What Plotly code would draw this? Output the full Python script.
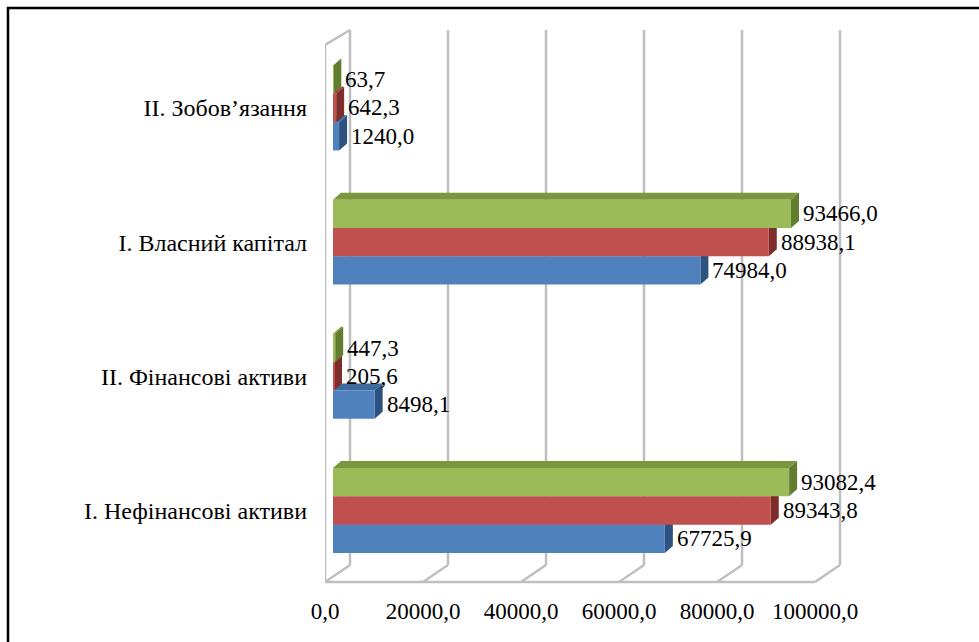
import plotly.graph_objects as go

# ---------------- data ----------------
categories = ["I. Нефінансові активи", "II. Фінансові активи",
              "I. Власний капітал", "II. Зобов’язання"]
series_names = ["Ряд 1", "Ряд 2", "Ряд 3"]
series_blue = [67725.9, 8498.1, 74984.0, 1240.0]
series_red = [89343.8, 205.6, 88938.1, 642.3]
series_green = [93082.4, 447.3, 93466.0, 63.7]
x_ticks = [0, 20000, 40000, 60000, 80000, 100000]
x_tick_labels = ["0,0", "20000,0", "40000,0", "60000,0", "80000,0", "100000,0"]

# ---------------- styles ----------------
front_cols = ["#4F81BD", "#C0504D", "#9BBB59"]
top_cols = ["#3D6A9E", "#A03E3B", "#7A973E"]
side_cols = ["#2E527F", "#7F2D2B", "#617D2F"]
FONT = "Liberation Serif"
W, H = 979, 642
L, R, T, B = 325, 845, 25, 585       # plot area in pixels
KX = 0.0049                           # px per data unit
KY = 134.17                           # px per category
BAR0_PX = 333                         # pixel of x=0 at bar front
CAT0_PX = 510.5                       # pixel of category 0 centre

def X(px):
    return (px - BAR0_PX) / KX

def Y(py):
    return (CAT0_PX - py) / KY

xr = [X(L), X(R)]
yr = [Y(B), Y(T)]

bargap = 0.367
nser = 3
bw = (1 - bargap) / nser
depth_dx = 8 / KX
depth_dy = 7 / KY

fig = go.Figure()
all_series = [series_blue, series_red, series_green]
ypos = list(range(len(categories)))
for i, vals in enumerate(all_series):
    fig.add_trace(go.Bar(
        x=vals, y=ypos, orientation="h", name=series_names[i],
        marker=dict(color=front_cols[i], line=dict(width=0)),
        hoverinfo="x",
    ))

shapes = []
# back wall gridlines and floor lines
front_off = X(325) - X(BAR0_PX)
back_off = X(350) - X(BAR0_PX)
y_ff, y_bf = Y(582), Y(565)
y_bt, y_ft = Y(30), Y(45)
grid = dict(color="#BFBFBF", width=2.5)
for t in x_ticks:
    shapes.append(dict(type="line", xref="x", yref="y", layer="between",
                       x0=t + back_off, x1=t + back_off, y0=y_bf, y1=y_bt, line=grid))
    shapes.append(dict(type="line", xref="x", yref="y", layer="between",
                       x0=t + back_off, x1=t + front_off, y0=y_bf, y1=y_ff, line=grid))
shapes.append(dict(type="line", xref="x", yref="y", layer="between",
                   x0=x_ticks[0] + front_off, x1=x_ticks[-1] + front_off,
                   y0=y_ff, y1=y_ff, line=grid))
shapes.append(dict(type="path", xref="x", yref="y", layer="between",
                   path=f"M{x_ticks[0] + front_off},{y_ff} L{x_ticks[0] + front_off},{y_ft} "
                        f"L{x_ticks[0] + back_off},{y_bt}",
                   line=grid))

# 3D faces of bars
for i, vals in enumerate(all_series):
    for c, v in enumerate(vals):
        yc = c + (i - (nser - 1) / 2) * bw
        ytop, ybot = yc + bw / 2, yc - bw / 2
        shapes.append(dict(
            type="path", xref="x", yref="y", layer="between",
            path=f"M0,{ytop} L{v},{ytop} L{v + depth_dx},{ytop + depth_dy} "
                 f"L{depth_dx},{ytop + depth_dy} Z",
            fillcolor=top_cols[i], line=dict(width=0)))
        shapes.append(dict(
            type="path", xref="x", yref="y", layer="between",
            path=f"M{v},{ybot} L{v},{ytop} L{v + depth_dx},{ytop + depth_dy} "
                 f"L{v + depth_dx},{ybot + depth_dy} Z",
            fillcolor=side_cols[i], line=dict(width=0)))

# outer border (extends beyond the right and bottom edges)
def PX(px):
    return (px - L) / (R - L)

def PY(py):
    return (B - py) / (B - T)

shapes.append(dict(type="path", xref="paper", yref="paper", layer="above",
                   path=f"M{PX(8)},{PY(700)} L{PX(8)},{PY(8)} L{PX(1000)},{PY(8)}",
                   line=dict(color="#000000", width=2.5)))

annotations = []
for i, vals in enumerate(all_series):
    for c, v in enumerate(vals):
        yc = c + (i - (nser - 1) / 2) * bw
        annotations.append(dict(
            x=v, y=yc, xref="x", yref="y", xanchor="left", yanchor="middle",
            xshift=10, yshift=0, showarrow=False,
            text=f"{v:.1f}".replace(".", ","),
            font=dict(family=FONT, size=23, color="#000000")))

fig.update_layout(
    width=W, height=H, barmode="group", bargap=bargap, bargroupgap=0,
    showlegend=False, plot_bgcolor="white", paper_bgcolor="white",
    font=dict(family=FONT, size=23, color="#000000"),
    margin=dict(l=L, r=W - R, t=T, b=H - B, pad=0),
    shapes=shapes, annotations=annotations,
    xaxis=dict(range=xr, showgrid=False, zeroline=False, showline=False,
               tickvals=[t + front_off for t in x_ticks], ticktext=x_tick_labels,
               ticks="", ticklabelstandoff=10,
               tickfont=dict(family=FONT, size=23, color="#000000")),
    yaxis=dict(range=yr, showgrid=False, zeroline=False, showline=False,
               tickvals=ypos, ticktext=categories, ticks="", ticklabelstandoff=17,
               tickfont=dict(family=FONT, size=24, color="#000000")),
)

fig.write_html("out.html")
